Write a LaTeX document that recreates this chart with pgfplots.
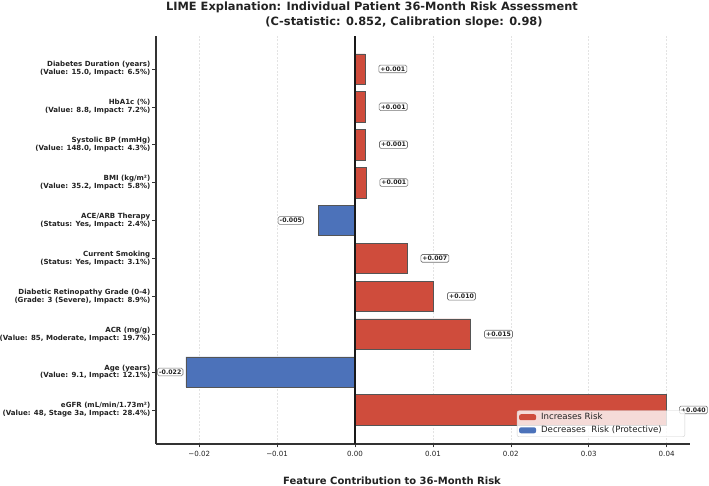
\documentclass[border=0pt]{standalone}
\usepackage{fontspec}
\setmainfont{DejaVu Sans}
\usepackage{pgfplots}
\usepackage{pgfplotstable}
\pgfplotsset{compat=1.18}

\definecolor{riskred}{RGB}{207,76,60}
\definecolor{riskblue}{RGB}{76,114,186}
\definecolor{edgegray}{RGB}{85,85,85}
\definecolor{inkgray}{RGB}{34,34,34}

% LIME contributions; row 0 = eGFR (bottom) ... row 9 = diabetes duration (top)
% sh = gap (pt) between bar end and its value box
\pgfplotstableread{
y  x        sh
0  0.03993  13
2  0.01485  13.5
3  0.01010  13.5
4  0.00668  13.5
6  0.00141  13.5
7  0.00137  13.5
8  0.00133  13.5
9  0.00128  13.5
}\increases
\pgfplotstableread{
y  x         sh
1  -0.02173  2.5
5  -0.00475  14.2
}\decreases

\tikzset{
  valuebox/.style={draw=black!55, fill=white, rounded corners=1.5pt, line width=0.6pt,
    inner xsep=1.6pt, inner ysep=1.5pt, text=inkgray,
    font=\fontsize{6.2}{7}\selectfont\bfseries},
}
\pgfplotsset{
  valuelabel/.style={
    point meta=x,
    nodes near coords={\pgfmathprintnumber[fixed,fixed zerofill,precision=3,showpos,assume math mode=true]{\pgfplotspointmeta}},
    visualization depends on={\thisrow{sh}\as\lblshift},
  },
}

\begin{document}
\begin{tikzpicture}
\useasboundingbox (0pt,0pt) rectangle (709pt,486pt);
\begin{axis}[
  at={(156pt,42pt)}, anchor=south west,
  scale only axis, width=534pt, height=408pt,
  xmin=-0.02555, xmax=0.0430,
  ymin=-0.9, ymax=9.87,
  xbar, bar width=0.8, bar shift=0pt,
  axis lines*=left,
  axis line style={-, draw=black!80, line width=1.2pt},
  tick align=outside, major tick length=3.5pt,
  tick style={draw=black!80, line width=0.6pt},
  scaled x ticks=false,
  xtick={-0.02,-0.01,0,0.01,0.02,0.03,0.04},
  xticklabels={−0.02,−0.01,0.00,0.01,0.02,0.03,0.04},
  xticklabel style={font=\fontsize{7.1}{8}\selectfont, text=inkgray},
  ytick={0,...,9},
  yticklabels={
    {eGFR (mL/min/1.73m²)\\(Value: 48, Stage 3a, Impact: 28.4\%)},
    {Age (years)\\(Value: 9.1, Impact: 12.1\%)},
    {ACR (mg/g)\\(Value: 85, Moderate, Impact: 19.7\%)},
    {Diabetic Retinopathy Grade (0-4)\\(Grade: 3 (Severe), Impact: 8.9\%)},
    {Current Smoking\\(Status: Yes, Impact: 3.1\%)},
    {ACE/ARB Therapy\\(Status: Yes, Impact: 2.4\%)},
    {BMI (kg/m²)\\(Value: 35.2, Impact: 5.8\%)},
    {Systolic BP (mmHg)\\(Value: 148.0, Impact: 4.3\%)},
    {HbA1c (\%)\\(Value: 8.8, Impact: 7.2\%)},
    {Diabetes Duration (years)\\(Value: 15.0, Impact: 6.5\%)}
  },
  yticklabel style={align=right, text=inkgray, inner xsep=2pt,
    font=\fontsize{7.05}{7.9}\selectfont\bfseries},
  xmajorgrids,
  major grid style={dash pattern=on 2pt off 1.5pt, black!11, line width=0.5pt},
  legend image code/.code={\path[#1, draw=none, fill opacity=1] (0pt,-3pt) rectangle (17pt,3pt);},
  legend cell align=left,
  legend style={at={(rel axis cs:1,0)}, anchor=south east, xshift=-5pt, yshift=7pt,
    fill=white, fill opacity=0.8, text opacity=1, draw=black!18, rounded corners=2pt,
    font=\fontsize{8.6}{10}\selectfont, text=inkgray,
    inner xsep=2pt, inner ysep=1.5pt, row sep=3pt,
    nodes={inner ysep=1pt}},
]
\addplot[fill=riskred, draw=edgegray, line width=0.5pt, valuelabel,
  every node near coord/.append style={valuebox, anchor=west, xshift=\lblshift pt}]
  table[x=x, y=y] {\increases};
\addlegendentry{\rule{3pt}{0pt}Increases Risk}
\addplot[fill=riskblue, draw=edgegray, line width=0.5pt, valuelabel,
  every node near coord/.append style={valuebox, anchor=east, xshift=-\lblshift pt}]
  table[x=x, y=y] {\decreases};
\addlegendentry{\rule{3pt}{0pt}Decreases\ \ Risk (Protective)\rule{19pt}{0pt}}
% zero reference line
\draw[black!90, line width=1.1pt] (axis cs:0,-0.9) -- (axis cs:0,9.87);
\end{axis}
\node[font=\fontsize{11.4}{13}\selectfont\bfseries, text=inkgray] at (372pt,479pt)
  {LIME Explanation: Individual Patient 36-Month Risk Assessment};
\node[font=\fontsize{11.4}{13}\selectfont\bfseries, text=inkgray] at (404pt,464pt)
  {(C-statistic: 0.852, Calibration slope: 0.98)};
\node[font=\fontsize{10}{12}\selectfont\bfseries, text=inkgray, anchor=base] at (392pt,1pt)
  {Feature Contribution to 36-Month Risk};
\end{tikzpicture}
\end{document}
